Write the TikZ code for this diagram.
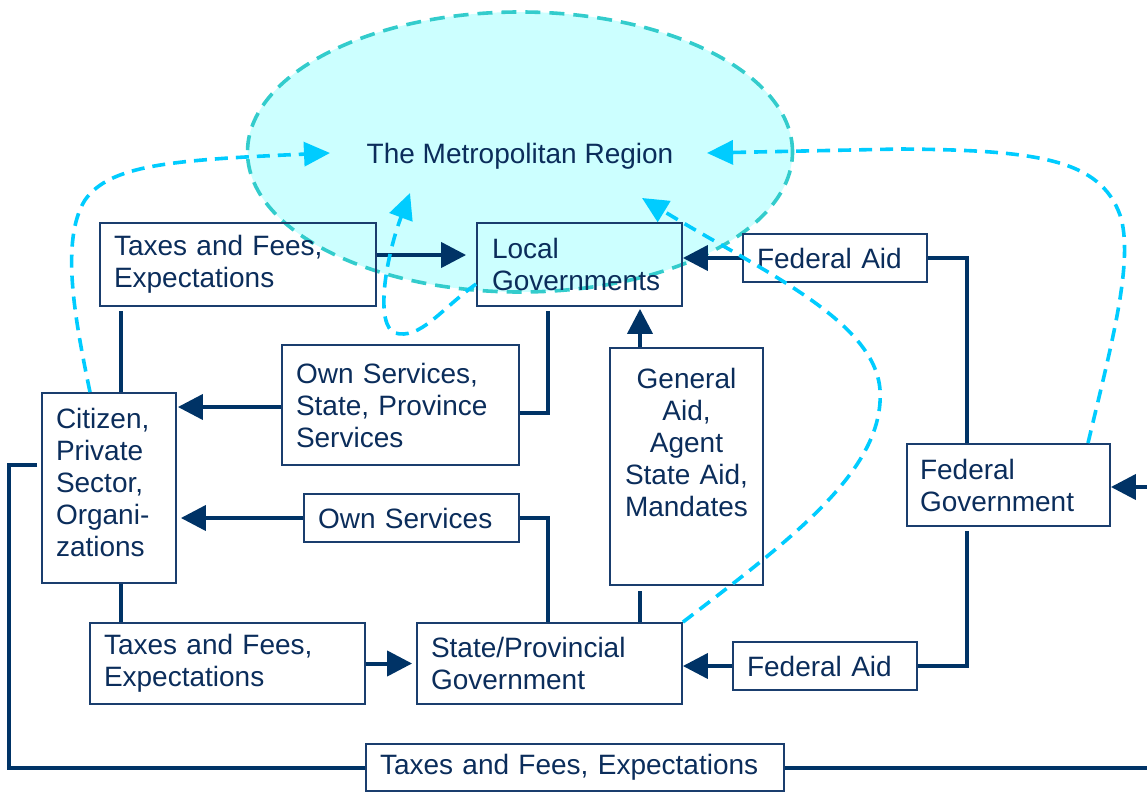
\documentclass[tikz,border=0pt]{standalone}
\usepackage{fontspec}
\setmainfont{Liberation Sans}
\usetikzlibrary{arrows.meta,shapes.geometric,calc}
\definecolor{navy}{HTML}{003366}
\definecolor{boxc}{HTML}{1A3E6E}
\definecolor{txtc}{HTML}{0B2D5B}
\definecolor{metrofill}{HTML}{CCFFFF}
\definecolor{metroline}{HTML}{33CCCC}
\definecolor{cyanl}{HTML}{00CCFF}
\begin{document}
\begin{tikzpicture}[x=1pt,y=-1pt,
  box/.style={draw=boxc, line width=1.8pt, text=txtc, font=\fontsize{28}{32}\selectfont,
    inner xsep=14pt, inner ysep=0pt, align=left},
  conn/.style={draw=navy, line width=4pt},
  arr/.style={conn, -{Triangle[length=25pt,width=25pt]}},
  dsh/.style={draw=cyanl, line width=3.6pt, dash pattern=on 13pt off 8pt,
    -{Triangle[length=26pt,width=24pt]}}]
\useasboundingbox (0,0) rectangle (1147,792);

% metropolitan region
\node[ellipse, fill=metrofill, draw=metroline, line width=3.6pt, dash pattern=on 15pt off 9pt,
  minimum width=545pt, minimum height=280pt, inner sep=0pt, text=txtc,
  font=\fontsize{28}{32}\selectfont] (metro) at (520,152) {\raisebox{0pt}[23pt][0pt]{The Metropolitan Region}};

% boxes
\node[box, minimum width=276pt, minimum height=83pt, text width=248pt] (tf1) at (238,264.5) {Taxes and Fees,\\Expectations};
\node[box, minimum width=205pt, minimum height=83pt, text width=175pt, inner xsep=15pt] (lg) at (579.5,264.5) {Local\\Governments};
\node[box, minimum width=184pt, minimum height=48pt, text width=156pt] (fa1) at (835,258) {Federal Aid};
\node[box, minimum width=237pt, minimum height=120pt, text width=209pt] (os1) at (400.5,405) {Own Services,\\State, Province\\Services};
\node[box, minimum width=153pt, minimum height=237pt, text width=137pt, inner xsep=8pt, align=center] (ga) at (686.5,466.5) {General\\Aid,\\Agent\\State Aid,\\Mandates\\[16pt]\mbox{}};
\node[box, minimum width=134pt, minimum height=190pt, text width=106pt] (cit) at (109,488) {Citizen,\\Private\\Sector,\\Organi-\\zations\\[-20pt]\mbox{}};
\node[box, minimum width=203pt, minimum height=82pt, text width=177pt, inner xsep=13pt] (fg) at (1008.5,485) {Federal\\Government};
\node[box, minimum width=215pt, minimum height=48pt, text width=187pt] (os2) at (411.5,518) {Own Services};
\node[box, minimum width=275pt, minimum height=81pt, text width=247pt] (tf2) at (227.5,663.5) {Taxes and Fees,\\Expectations};
\node[box, minimum width=265pt, minimum height=81pt, text width=237pt] (sp) at (549.5,663.5) {State/Provincial\\Government};
\node[box, minimum width=184pt, minimum height=48pt, text width=156pt] (fa2) at (825,666) {Federal Aid};
\node[box, minimum width=418pt, minimum height=47pt, text width=390pt] (tf3) at (575,767.5) {Taxes and Fees, Expectations};

% free ends
\coordinate (lcorner) at (9,465);
\coordinate (redge1) at (1150,767.5);
\coordinate (redge2) at (1150,487);
\coordinate (m1) at (330,153);
\coordinate (m2) at (410,193);
\coordinate (m3) at (642,198);
\coordinate (m4) at (707,153);

% solid connectors
\draw[arr, shorten >=10pt] ([yshift=9.5pt]tf1.east) -- ([yshift=9.5pt]lg.west);
\draw[arr] (fa1.west) -- (fa1.west -| lg.east);
\draw[conn] (fa1.east) -| ([xshift=-41.5pt]fg.north);
\draw[conn, shorten <=4pt] ([xshift=-41.5pt]fg.south) |- (fa2.east);
\draw[arr] (fa2.west) -- (fa2.west -| sp.east);
\draw[conn, shorten <=4pt] ([xshift=-31.5pt]lg.south) |- ([yshift=-8pt]os1.east);
\draw[arr, shorten >=1pt] ([yshift=-2pt]os1.west) -- ([yshift=-2pt]os1.west -| cit.east);
\draw[arr, shorten >=4pt] (os2.west) -- (os2.west -| cit.east);
\draw[conn] (os2.east) -| ([xshift=-1.5pt]sp.north);
\draw[arr, shorten >=2pt] ([xshift=-46.5pt]ga.north) -- ([xshift=-46.5pt]ga.north |- lg.south);
\draw[conn, shorten >=5pt] ([xshift=90.5pt]sp.north) -- ([xshift=90.5pt]sp.north |- ga.south);
\draw[conn, shorten >=4pt] ([xshift=12pt]cit.north) -- ([xshift=12pt]cit.north |- tf1.south);
\draw[conn] ([xshift=12pt]cit.south) -- ([xshift=12pt]cit.south |- tf2.north);
\draw[arr, shorten >=4pt] (tf2.east) -- (tf2.east -| sp.west);
\draw[conn, shorten <=4pt] ([yshift=23pt]cit.west) -- (lcorner) |- (tf3.west);
\draw[conn] (tf3.east) -- (redge1);
\draw[arr] (redge2) -- (redge2 -| fg.east);

% dashed influences on the metropolitan region
\draw[dsh] ([xshift=-19pt]cit.north) .. controls (75,320) and (60,240) .. (85,200)
  .. controls (110,165) and (170,160) .. (m1);
\draw[dsh] ([yshift=-19.5pt]lg.west) .. controls (440,310) and (420,340) .. (395,333)
  .. controls (375,325) and (385,260) .. (m2);
\draw[dsh] (sp.north east) .. controls (790,540) and (885,470) .. (880,390)
  .. controls (875,320) and (760,270) .. (m3);
\draw[dsh] ([xshift=79.5pt]fg.north) .. controls (1110,350) and (1135,260) .. (1120,215)
  .. controls (1100,160) and (1040,150) .. (900,149) -- (m4);
\end{tikzpicture}
\end{document}
